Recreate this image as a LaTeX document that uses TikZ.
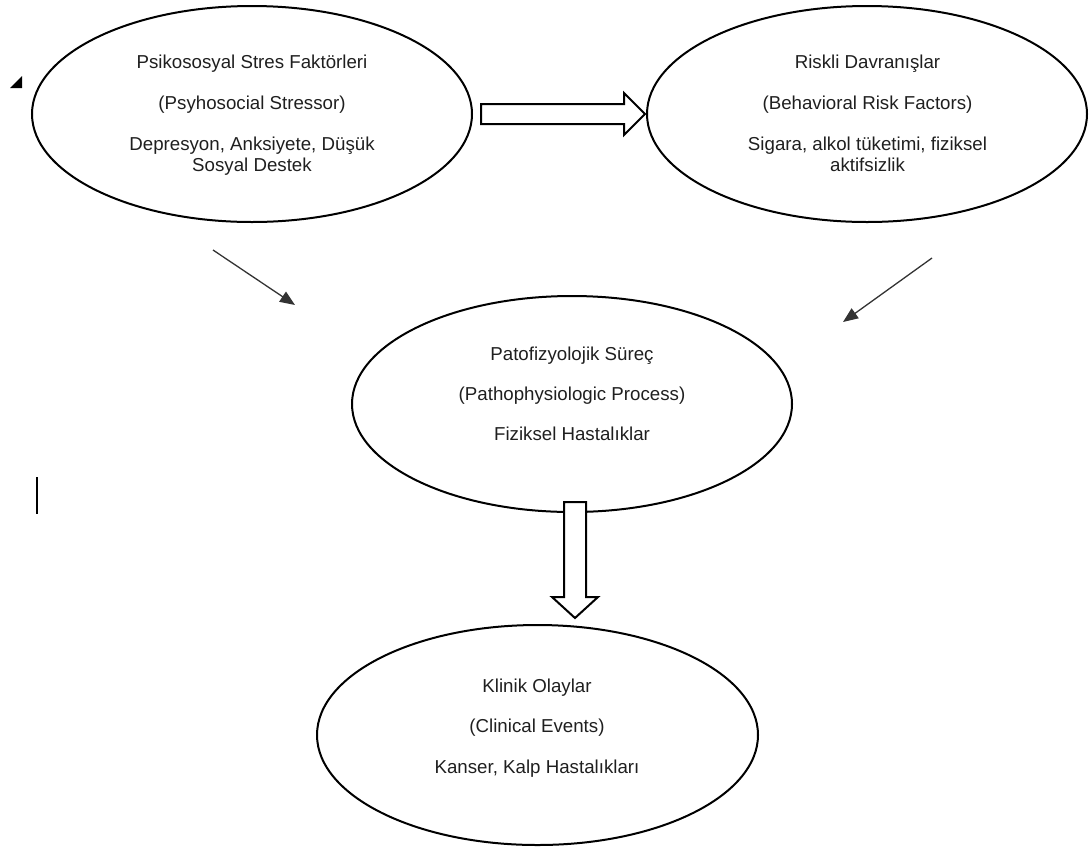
\documentclass[tikz,border=0pt]{standalone}
\usepackage{fontspec}
\setmainfont{Liberation Sans}
\usetikzlibrary{shapes.geometric,arrows.meta}
\begin{document}
\begin{tikzpicture}[x=1pt,y=-1pt,
  bubble/.style={draw=black,line width=2pt,ellipse,minimum width=440pt,minimum height=216pt,inner sep=0pt},
  txt/.style={font=\fontsize{18.7}{21.5}\selectfont,anchor=base,inner sep=0pt,text=black!88},
  thinarrow/.style={draw=black!80,line width=1.3pt,-{Triangle[length=15pt,width=12pt]}},
  blockarrow/.style={draw=black,line width=2pt,fill=white,line join=miter}]
\useasboundingbox (0,0) rectangle (1091,847);

% the four stages
\node[bubble] (stres) at (252,114) {};
\node[bubble] (risk) at (867,114) {};
\node[bubble] (pato) at (572,404) {};
\node[bubble,minimum width=441pt,minimum height=220pt] (klinik) at (537.5,735) {};

% stage texts
\node[txt] (s1) at (252,68) {Psikososyal Stres Faktörleri};
\node[txt] (s2) at (252,109.5) {(Psyhosocial Stressor)};
\node[txt] (s3) at (252,150) {Depresyon, Anksiyete, Düşük};
\node[txt] (s4) at (252,171.5) {Sosyal Destek};

\node[txt] (r1) at (867.5,68) {Riskli Davranışlar};
\node[txt] (r2) at (867.5,109.5) {(Behavioral Risk Factors)};
\node[txt] (r3) at (867.5,150) {Sigara, alkol tüketimi, fiziksel};
\node[txt] (r4) at (867.5,171.5) {aktifsizlik};

\node[txt] (p1) at (572,360) {Patofizyolojik Süreç};
\node[txt] (p2) at (572,400) {(Pathophysiologic Process)};
\node[txt] (p3) at (572,440) {Fiziksel Hastalıklar};

\node[txt] (k1) at (537,692.5) {Klinik Olaylar};
\node[txt] (k2) at (537,732.5) {(Clinical Events)};
\node[txt] (k3) at (537,773.5) {Kanser, Kalp Hastalıkları};

% block arrows
\draw[blockarrow] (481,104) -- (624,104) -- (624,93) -- (645,114) -- (624,135) -- (624,124) -- (481,124) -- cycle;
\draw[blockarrow] (564,502) -- (586,502) -- (586,597) -- (598,597) -- (575,618) -- (552,597) -- (564,597) -- cycle;

% thin arrows towards the process
\coordinate (a1s) at (213,250);
\coordinate (a1e) at (295,305);
\coordinate (a2s) at (932,258);
\coordinate (a2e) at (843,322);
\draw[thinarrow] (a1s) -- (a1e);
\draw[thinarrow] (a2s) -- (a2e);

% small marks at the left edge
\fill[black] (10,88) -- (22,76) -- (22,88) -- cycle;
\draw[line width=1.5pt] (37,477) -- (37,514);
\end{tikzpicture}
\end{document}
